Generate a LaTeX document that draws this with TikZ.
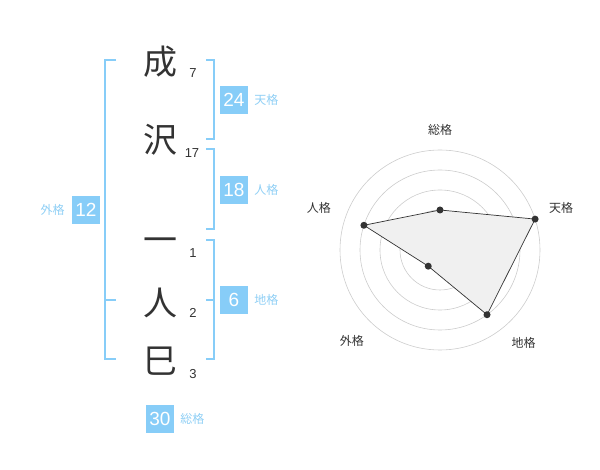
\documentclass[tikz,border=0pt]{standalone}
\usepackage{fontspec}
\setmainfont{Liberation Sans}
\newfontfamily\jpfont{Noto Sans CJK JP}
\usepackage{tikz}
\usetikzlibrary{positioning,calc}
\definecolor{NameInk}{HTML}{333333}
\definecolor{KakuBlue}{HTML}{87CDF8}
\definecolor{KakuText}{HTML}{8FCFF5}
\tikzset{
  kanji/.style={text=NameInk,font=\jpfont\fontsize{34}{34}\selectfont,inner sep=0pt,text height=29.9pt,text depth=4.1pt},
  strokes/.style={text=NameInk,font=\fontsize{13}{13}\selectfont,inner sep=0pt},
  kakubox/.style={fill=KakuBlue,text=white,minimum size=28pt,inner sep=0pt,font=\fontsize{19}{19}\selectfont},
  kakulabel/.style={text=KakuText,font=\jpfont\fontsize{12}{12}\selectfont,inner sep=0pt},
  brk/.style={draw=KakuBlue,line width=1.8pt},
  ring/.style={draw=black!20,line width=0.6pt},
  axislabel/.style={text=NameInk,font=\jpfont\fontsize{12}{12}\selectfont,inner sep=0pt},
}

\begin{document}
\begin{tikzpicture}[x=1pt,y=-1pt]
\useasboundingbox (0,0) rectangle (600,470);
% name column
\node[kanji] (k1) at (160,62) {成};
\node[kanji] (k2) at (160,140) {沢};
\node[kanji] (k3) at (160,240) {一};
\node[kanji] (k4) at (160,303) {人};
\node[kanji] (k5) at (160,361) {巳};
\node[strokes] (s1) at (193,73) {7};
\node[strokes] (s2) at (192,153) {17};
\node[strokes] (s3) at (193,253) {1};
\node[strokes] (s4) at (193,313) {2};
\node[strokes] (s5) at (193,374) {3};
% brackets
\draw[brk] (116,60) -| (105,359) -- (116,359);
\draw[brk] (105,300) -- (116,300);
\draw[brk] (206,60) -| (214,139) -- (206,139);
\draw[brk] (206,149) -| (214,229) -- (206,229);
\draw[brk] (206,240) -| (214,359) -- (206,359);
\draw[brk] (206,300) -- (214,300);
% kaku values
\node[kakubox] (ten) at (234,100) {24};
\node[kakulabel, right=6pt of ten] (tenlbl) {天格};
\node[kakubox] (jin) at (234,190) {18};
\node[kakulabel, right=6pt of jin] (jinlbl) {人格};
\node[kakubox] (chi) at (234,300) {6};
\node[kakulabel, right=6pt of chi] (chilbl) {地格};
\node[kakubox] (gai) at (86,210) {12};
\node[kakulabel, left=7pt of gai] (gailbl) {外格};
\node[kakubox] (sou) at (160,419) {30};
\node[kakulabel, right=6pt of sou] (soulbl) {総格};
% radar chart
\begin{scope}[shift={(440,250)},y=1pt]
  \foreach \r in {20,40,60,80,100}
    \draw[ring] (0,0) circle (\r);
  \fill[black!20] (0,0) circle (3);
  \foreach \a/\r/\n in {90/40/pS,18/100/pT,-54/80/pC,-126/20/pG,162/80/pJ}
    \coordinate (\n) at (\a:\r);
  \foreach \a/\d/\n/\t in {90/120/pS/総格,19/128/pT/天格,-48/125/pC/地格,-134/127/pG/外格,161/128/pJ/人格}
    \node[axislabel] (l\n) at (\a:\d) {\t};
  \filldraw[fill=black!6,draw=NameInk,line width=0.7pt] (pS) -- (pT) -- (pC) -- (pG) -- (pJ) -- cycle;
  \foreach \n in {pS,pT,pC,pG,pJ}
    \fill[NameInk] (\n) circle (3.5);
\end{scope}
\end{tikzpicture}
\end{document}
